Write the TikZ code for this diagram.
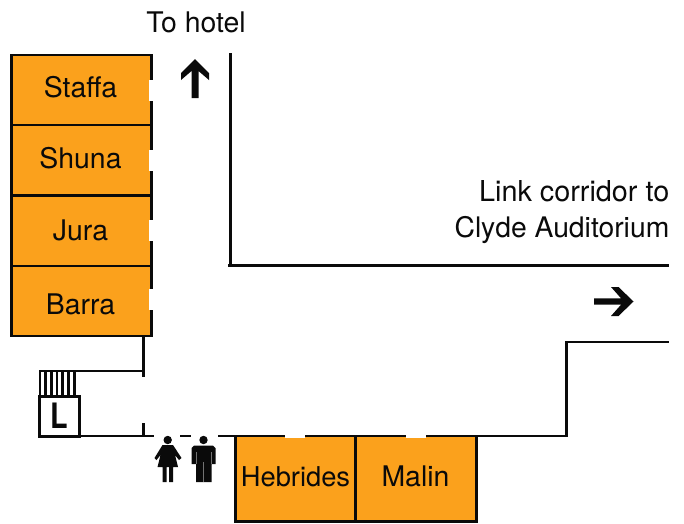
\documentclass[tikz,border=0pt]{standalone}
\usepackage{fontspec}
\setmainfont{TeX Gyre Heros}
\definecolor{roomfill}{HTML}{FBA11C}
\definecolor{ink}{HTML}{0A0A0A}
\tikzset{
  room/.style={draw=ink,fill=roomfill,line width=2.6pt,inner sep=0pt,outer sep=0pt,anchor=north west},
  wall/.style={draw=ink,line width=2.4pt},
  stairline/.style={draw=ink,line width=2.7pt},
  label/.style={inner sep=0pt,text=ink,font=\fontsize{28.4}{34}\selectfont},
  door/.style={fill=white,draw=none},
  person/.style={fill=ink,draw=none},
  persongap/.style={draw=black!55,line width=.9pt}
}
\begin{document}
\begin{tikzpicture}[x=1pt,y=-1pt]
\useasboundingbox (0,0) rectangle (684,523);
% west rooms
\node[room,minimum width=139.5pt,minimum height=70pt] (staffa) at (11.7,55) {};
\node[room,minimum width=139.5pt,minimum height=70.5pt] (shuna) at (11.7,125) {};
\node[room,minimum width=139.5pt,minimum height=70.5pt] (jura) at (11.7,195.5) {};
\node[room,minimum width=139.5pt,minimum height=70pt] (barra) at (11.7,266) {};
% south rooms
\node[room,minimum width=120pt,minimum height=85.5pt] (hebrides) at (235.7,436) {};
\node[room,minimum width=120.5pt,minimum height=85.5pt] (malin) at (355.7,436) {};
% room names
\node[label,anchor=base] (staffat) at (80.5,97) {Staffa};
\node[label,anchor=base] (shunat) at (80.5,168.5) {Shuna};
\node[label,anchor=base] (jurat) at (80.5,240.5) {Jura};
\node[label,anchor=base] (barrat) at (80.5,314) {Barra};
\node[label,anchor=base,font=\fontsize{27.3}{34}\selectfont] (hebridest) at (295.5,486) {Hebrides};
\node[label,anchor=base] (malint) at (415.5,486) {Malin};
% doors
\foreach \y in {80,150,220,289}{\fill[door] (149,\y) rectangle (153.5,\y+21);}
\foreach \x in {285,406}{\fill[door] (\x,434) rectangle (\x+20,438);}
% walls
\draw[wall] (143.5,336) -- (143.5,376.5);
\draw[wall] (39,370.7) -- (143.5,370.7);
\draw[wall] (143.5,423) -- (143.5,436);
\draw[wall] (39,436) -- (154,436);
\draw[wall] (180,436) -- (191,436);
\draw[wall] (218,436) -- (235.5,436);
\draw[wall] (235.5,436) -- (285,436);
\draw[wall] (305,436) -- (406,436);
\draw[wall] (426,436) -- (566.5,436) -- (566.5,342) -- (669,342);
\draw[wall] (230.5,53) -- (230.5,265.5);
\draw[wall] (228,265.5) -- (669,265.5);
% stairs and lift
\foreach \x in {40,45.7,51.3,57,62.6,68.2,74.2}{\draw[stairline] (\x,371) -- (\x,396);}
\node[draw=ink,line width=3pt,outer sep=0pt,minimum width=40pt,minimum height=40pt,inner sep=0pt,anchor=north west,text=ink,font=\fontsize{35}{36}\selectfont\bfseries] (lift) at (39.7,396) {\scalebox{0.82}[1]{L}};
% arrows
\fill[ink] (195,59) -- (209,73) -- (209,80) -- (198.5,71) -- (198.5,98) -- (191.5,98) -- (191.5,71) -- (181,80) -- (181,73) -- cycle;
\fill[ink] (633.5,301.5) -- (618.5,287) -- (611,287) -- (621,298.3) -- (594,298.3) -- (594,304.7) -- (621,304.7) -- (611,316) -- (618.5,316) -- cycle;
% labels
\node[label,anchor=base] (tohotel) at (196,32) {To hotel};
\node[label,anchor=base east,font=\fontsize{28.8}{34}\selectfont] (link1) at (669.5,201) {Link corridor to};
\node[label,anchor=base east,font=\fontsize{28.3}{34}\selectfont] (link2) at (669.5,237) {Clyde Auditorium};
% woman
\fill[person] (167.7,440) circle (4.2);
\fill[person] (162.5,445) -- (173,445) -- (181.5,458) -- (179,460) -- (175,455) -- (178,467) -- (173,467) -- (173,482) -- (169,482) -- (169,467) -- (166.5,467) -- (166.5,482) -- (162.5,482) -- (162.5,467) -- (157.5,467) -- (160.5,455) -- (156.5,460) -- (154.5,458) -- cycle;
% man
\fill[person] (203.5,440) circle (4.2);
\fill[person] (194,445.5) -- (213,445.5) -- (215.5,448) -- (215.5,464) -- (211.5,464) -- (211.5,482) -- (196,482) -- (196,464) -- (191.5,464) -- (191.5,448) -- cycle;
\draw[persongap] (203.6,462) -- (203.6,482);
\draw[persongap] (196.2,452) -- (196.2,464);
\draw[persongap] (211.2,452) -- (211.2,464);
\end{tikzpicture}
\end{document}
